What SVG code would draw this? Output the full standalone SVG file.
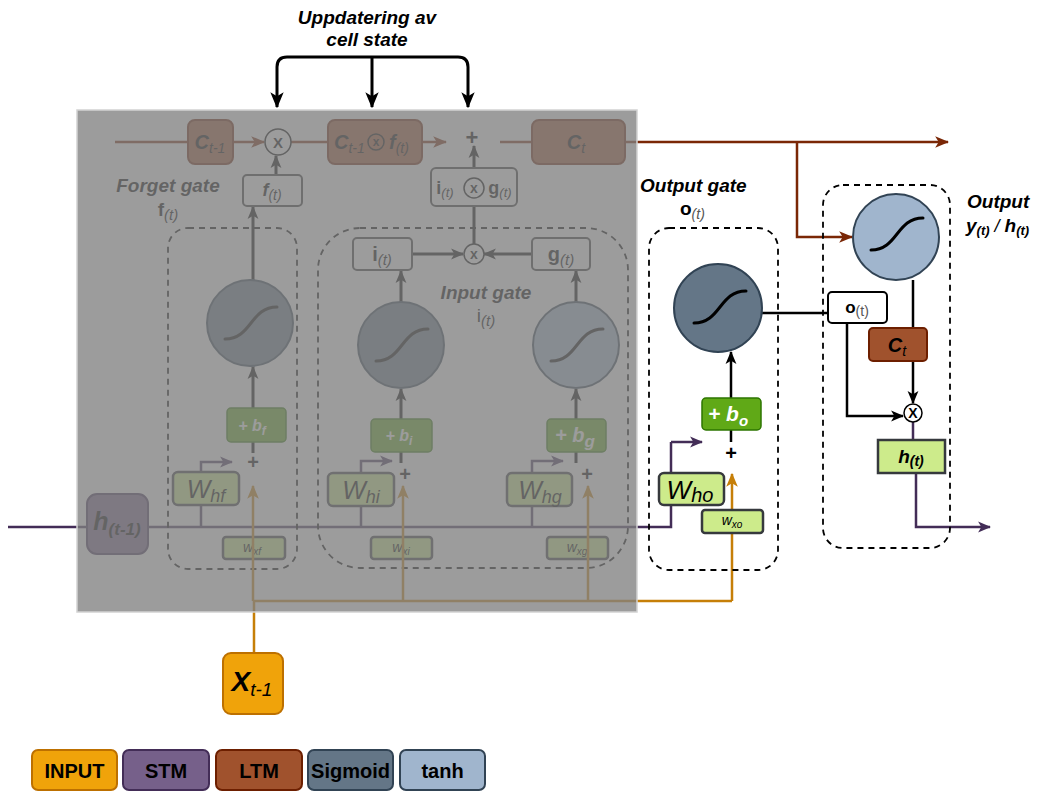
<svg xmlns="http://www.w3.org/2000/svg" width="1037" height="792" viewBox="0 0 1037 792">
<defs>
<style>
text{font-family:"Liberation Sans",Arial,sans-serif;fill:#000;}
.bi{font-weight:bold;font-style:italic;}
.b{font-weight:bold;}
.i{font-style:italic;}
.box{fill:#fff;stroke:#333;stroke-width:2;}
.ltm{fill:#a0522d;stroke:#6d1f00;stroke-width:2;}
.stm{fill:#76608a;stroke:#432d57;stroke-width:2;}
.inp{fill:#f0a30a;stroke:#bd7000;stroke-width:2;}
.sig{fill:#647687;stroke:#314354;stroke-width:2;}
.tanh{fill:#a0b5cd;stroke:#314354;stroke-width:2;}
.wt{fill:#cdeb8b;stroke:#36393d;stroke-width:2.5;}
.bias{fill:#60a917;stroke:#2d7600;stroke-width:1.5;}
.dash{fill:none;stroke:#000;stroke-width:1.8;stroke-dasharray:6 5;}
.curve{fill:none;stroke:#000;stroke-width:3;stroke-linecap:round;}
.op{fill:#fff;stroke:#000;stroke-width:1.5;}
.k{fill:none;stroke:#000;stroke-width:2.5;}
.k3{fill:none;stroke:#000;stroke-width:3;}
.br{fill:none;stroke:#7a2706;stroke-width:2.5;}
.pu{fill:none;stroke:#432d57;stroke-width:2.5;}
.or{fill:none;stroke:#c67f08;stroke-width:2.5;}
.ak{marker-end:url(#ak);}
.ab{marker-end:url(#ab);}
.ap{marker-end:url(#ap);}
.ao{marker-end:url(#ao);}
.big{marker-end:url(#akl);}
.wl{fill:#fff;}
.lg{font-weight:bold;font-size:20px;}
</style>
<marker id="ak" viewBox="0 0 12 12" refX="11" refY="6" markerWidth="13" markerHeight="13" markerUnits="userSpaceOnUse" orient="auto"><path d="M0,1 L12,6 L0,11 L3,6 z" fill="#000"/></marker>
<marker id="akl" viewBox="0 0 12 12" refX="11" refY="6" markerWidth="16" markerHeight="16" markerUnits="userSpaceOnUse" orient="auto"><path d="M0,1 L12,6 L0,11 L3,6 z" fill="#000"/></marker>
<marker id="ab" viewBox="0 0 12 12" refX="11" refY="6" markerWidth="14" markerHeight="14" markerUnits="userSpaceOnUse" orient="auto"><path d="M0,1 L12,6 L0,11 L3,6 z" fill="#7a2706"/></marker>
<marker id="ap" viewBox="0 0 12 12" refX="11" refY="6" markerWidth="13" markerHeight="13" markerUnits="userSpaceOnUse" orient="auto"><path d="M0,1 L12,6 L0,11 L3,6 z" fill="#432d57"/></marker>
<marker id="ao" viewBox="0 0 12 12" refX="11" refY="6" markerWidth="14" markerHeight="14" markerUnits="userSpaceOnUse" orient="auto"><path d="M0,1 L12,6 L0,11 L3,6 z" fill="#c67f08"/></marker>
<path id="s-curve" d="M-25,16 C2,16 0,-16 27,-16" class="curve"/>
</defs>

<rect width="1037" height="792" fill="#fff"/>

<!-- title of the cell-state update bracket -->
<g id="update-label">
<text class="bi" font-size="19" x="367" y="24" text-anchor="middle">Uppdatering av</text>
<text class="bi" font-size="19" x="367" y="46" text-anchor="middle">cell state</text>
</g>

<!-- connectors -->
<g id="connectors">
<path class="k3 big" d="M372,57 H287 Q277,57 277,67 V107"/>
<path class="k3 big" d="M372,57 H458 Q468,57 468,67 V107"/>
<path class="k3 big" d="M372,57 V107"/>

<path class="br" d="M115,142 H188"/>
<path class="br ab" d="M233,142 H264"/>
<path class="br" d="M291,142 H328"/>
<path class="br ab" d="M422,142 H446"/>
<path class="br" d="M500,142 H532"/>
<path class="br ab" d="M625,142 H948"/>
<path class="br ab" d="M797,142 V237 H852"/>

<path class="pu" d="M8,527 H87"/>
<path class="pu" d="M148,527 H671 V442"/>
<path class="pu ap" d="M671,442 H702"/>

<path class="k3 ak" d="M253,280 V207"/>
<path class="k3 ak" d="M276,175 V156"/>
<path class="k3 ak" d="M253,408 V367"/>
<path class="k3" d="M253,442 V453"/>
<path class="pu ap" d="M201,472 V462 H232"/>
<path class="pu" d="M201,505 V527"/>

<path class="k3 ak" d="M401,302 V271"/>
<path class="k3 ak" d="M401,419 V389"/>
<path class="k3" d="M401,452 V463"/>
<path class="pu ap" d="M361,473 V461 H392"/>
<path class="pu" d="M361,506 V527"/>

<path class="k3 ak" d="M576,302 V271"/>
<path class="k3 ak" d="M576,419 V389"/>
<path class="k3" d="M576,452 V463"/>
<path class="pu ap" d="M532,473 V461 H563"/>
<path class="pu" d="M532,506 V527"/>

<path class="k3 ak" d="M412,254 H463"/>
<path class="k3 ak" d="M532,254 H484"/>
<path class="k3" d="M474,244 V206"/>
<path class="k3 ak" d="M474,168 V146"/>

<path class="or" d="M254,653 V601 H732"/>
<path class="or ao" d="M732,601 V474"/>

<path class="k" d="M762,313 H828"/>
<path class="k ak" d="M731,398 V352"/>
<path class="k" d="M731,430 V442"/>
<path class="k ak" d="M847,323 V416 H903"/>
<path class="k" d="M913,280 V328"/>
<path class="k ak" d="M913,361 V403"/>
<path class="pu" d="M913,422 V440"/>
<path class="pu ap" d="M916,473 V527 H990"/>
</g>

<!-- forget gate -->
<g id="forget-gate">
<text class="bi" font-size="19" x="168" y="192" text-anchor="middle">Forget gate</text>
<text x="168" y="216" text-anchor="middle"><tspan class="b" font-size="19">f</tspan><tspan class="i" font-size="15" dy="4">(t)</tspan></text>
<rect class="dash" x="168" y="228" width="129" height="341" rx="20"/>
<circle class="sig" cx="250" cy="323" r="43"/>
<use href="#s-curve" x="250" y="323"/>
<rect class="bias" x="227" y="408" width="59" height="34" rx="4"/>
<text class="bi wl" font-size="16" x="252" y="431" text-anchor="middle">+ b<tspan font-size="12" dy="4">f</tspan></text>
<text class="b" font-size="20" x="253" y="469" text-anchor="middle">+</text>
<rect class="wt" x="173" y="472" width="66" height="33" rx="5"/>
<text class="i" font-size="25" x="206" y="498" text-anchor="middle">W<tspan font-size="18" dy="4">hf</tspan></text>
<rect class="wt" x="223" y="537" width="62" height="22" rx="3"/>
<text class="i" font-size="14" x="252" y="552" text-anchor="middle">w<tspan font-size="10" dy="3">xf</tspan></text>
<rect class="box" x="243" y="175" width="59" height="31" rx="4"/>
<text x="272" y="196" text-anchor="middle"><tspan class="bi" font-size="18">f</tspan><tspan class="i" font-size="14" dy="4">(t)</tspan></text>
</g>

<!-- input gate -->
<g id="input-gate">
<rect class="dash" x="318" y="228" width="310" height="340" rx="42"/>
<text class="bi" font-size="19" x="486" y="299" text-anchor="middle">Input gate</text>
<text x="486" y="322" text-anchor="middle"><tspan font-size="19">i</tspan><tspan class="i" font-size="15" dy="4">(t)</tspan></text>
<rect class="box" x="353" y="238" width="59" height="32" rx="4"/>
<text x="382" y="261" text-anchor="middle"><tspan class="b" font-size="20">i</tspan><tspan class="i" font-size="15" dy="4">(t)</tspan></text>
<rect class="box" x="532" y="238" width="58" height="32" rx="4"/>
<text x="561" y="261" text-anchor="middle"><tspan class="b" font-size="20">g</tspan><tspan class="i" font-size="15" dy="4">(t)</tspan></text>
<circle class="op" cx="474" cy="254" r="10"/>
<text class="b" font-size="14" x="474" y="259" text-anchor="middle">x</text>
<circle class="sig" cx="401" cy="345" r="43"/>
<use href="#s-curve" x="401" y="345"/>
<circle class="tanh" cx="576" cy="345" r="43"/>
<use href="#s-curve" x="576" y="345"/>
<rect class="bias" x="371" y="419" width="61" height="33" rx="4"/>
<text class="bi wl" font-size="16" x="399" y="441" text-anchor="middle">+ b<tspan font-size="12" dy="4">i</tspan></text>
<rect class="bias" x="547" y="419" width="59" height="33" rx="4"/>
<text class="bi wl" font-size="20" x="575" y="442" text-anchor="middle">+ b<tspan font-size="17" dy="5">g</tspan></text>
<text class="b" font-size="20" x="405" y="481" text-anchor="middle">+</text>
<text class="b" font-size="20" x="587" y="481" text-anchor="middle">+</text>
<rect class="wt" x="328" y="473" width="66" height="33" rx="5"/>
<text class="i" font-size="25" x="361" y="499" text-anchor="middle">W<tspan font-size="18" dy="4">hi</tspan></text>
<rect class="wt" x="507" y="473" width="65" height="33" rx="5"/>
<text class="i" font-size="25" x="540" y="499" text-anchor="middle">W<tspan font-size="18" dy="4">hg</tspan></text>
<rect class="wt" x="371" y="537" width="61" height="22" rx="3"/>
<text class="i" font-size="14" x="401" y="552" text-anchor="middle">w<tspan font-size="10" dy="3">xi</tspan></text>
<rect class="wt" x="547" y="537" width="61" height="22" rx="3"/>
<text class="i" font-size="14" x="577" y="552" text-anchor="middle">w<tspan font-size="10" dy="3">xg</tspan></text>
<rect class="box" x="431" y="168" width="86" height="38" rx="5"/>
<text x="445" y="194" text-anchor="middle"><tspan class="b" font-size="18">i</tspan><tspan class="i" font-size="13" dy="3">(t)</tspan></text>
<circle class="op" cx="474" cy="188" r="10"/>
<text class="b" font-size="14" x="474" y="193" text-anchor="middle">x</text>
<text x="500" y="194" text-anchor="middle"><tspan class="b" font-size="18">g</tspan><tspan class="i" font-size="13" dy="3">(t)</tspan></text>
</g>

<!-- input lines rising through the weight boxes to each sum -->
<g id="connectors-x">
<path class="or ao" d="M253,601 V486"/>
<path class="or ao" d="M403,601 V486"/>
<path class="or ao" d="M588,601 V486"/>
</g>

<!-- cell state row -->
<g id="cell-state">
<rect class="ltm" x="188" y="120" width="45" height="44" rx="7"/>
<text x="210" y="149" text-anchor="middle" fill="#444"><tspan class="bi" font-size="20">C</tspan><tspan class="i" font-size="14" dy="4">t-1</tspan></text>
<circle class="op" cx="278" cy="142" r="13"/>
<text class="b" font-size="15" x="278" y="148" text-anchor="middle">X</text>
<rect class="ltm" x="328" y="120" width="94" height="44" rx="7"/>
<text x="334" y="149"><tspan class="bi" font-size="20">C</tspan><tspan class="i" font-size="14" dy="4">t-1</tspan></text>
<circle fill="none" stroke="#000" stroke-width="1.5" cx="376" cy="142" r="8"/>
<text class="b" font-size="12" x="376" y="146" text-anchor="middle">x</text>
<text x="389" y="149"><tspan class="bi" font-size="20">f</tspan><tspan class="i" font-size="14" dy="4">(t)</tspan></text>
<text class="b" font-size="22" x="472" y="145" text-anchor="middle">+</text>
<rect class="ltm" x="532" y="120" width="93" height="44" rx="7"/>
<text x="576" y="149" text-anchor="middle"><tspan class="bi" font-size="20">C</tspan><tspan class="i" font-size="14" dy="4">t</tspan></text>
</g>

<!-- previous hidden state -->
<g id="h-prev">
<rect class="stm" x="87" y="494" width="61" height="60" rx="10"/>
<text x="117" y="530" text-anchor="middle"><tspan class="bi" font-size="25">h</tspan><tspan class="bi" font-size="17" dy="5">(t-1)</tspan></text>
</g>

<!-- grey shading over the forget and input gates -->
<rect id="shade" x="77" y="110" width="560" height="502" fill="#808080" fill-opacity="0.78" stroke="#d2d2d2" stroke-width="1.5"/>

<!-- input x -->
<g id="x-input">
<rect class="inp" x="223" y="653" width="60" height="61" rx="8"/>
<text x="252" y="691" text-anchor="middle"><tspan class="bi" font-size="28">X</tspan><tspan class="i" font-size="19" dy="5">t-1</tspan></text>
</g>

<!-- output gate -->
<g id="output-gate">
<text class="bi" font-size="19" x="640" y="192">Output gate</text>
<text x="680" y="215"><tspan class="b" font-size="19">o</tspan><tspan class="i" font-size="14" dy="4" fill="#555">(t)</tspan></text>
<rect class="dash" x="649" y="228" width="129" height="342" rx="20"/>
<circle class="sig" cx="718" cy="308" r="44"/>
<use href="#s-curve" x="719" y="307"/>
<rect class="bias" x="702" y="398" width="59" height="32" rx="4"/>
<text class="bi wl" font-size="21" x="728" y="421" text-anchor="middle">+ b<tspan font-size="15" dy="5">o</tspan></text>
<text class="b" font-size="20" x="731" y="460" text-anchor="middle">+</text>
<rect class="wt" x="659" y="473" width="65" height="32" rx="5"/>
<text class="i" font-size="26" x="690" y="499" text-anchor="middle">W<tspan font-size="20" dy="3">ho</tspan></text>
<rect class="wt" x="702" y="510" width="61" height="23" rx="3"/>
<text class="i" font-size="14" x="732" y="525" text-anchor="middle">w<tspan font-size="10" dy="3">xo</tspan></text>
</g>

<!-- output / hidden state -->
<g id="output">
<text class="bi" font-size="19" x="967" y="208">Output</text>
<text x="966" y="232"><tspan class="bi" font-size="19">y</tspan><tspan class="bi" font-size="13" dy="3">(t)</tspan><tspan class="i" font-size="18" dy="-3"> / </tspan><tspan class="bi" font-size="19">h</tspan><tspan class="bi" font-size="13" dy="3">(t)</tspan></text>
<rect class="dash" x="823" y="185" width="127" height="363" rx="20"/>
<circle class="tanh" cx="896" cy="237" r="43"/>
<use href="#s-curve" x="896" y="234"/>
<rect fill="#fff" stroke="#000" stroke-width="2" x="828" y="292" width="59" height="31" rx="4"/>
<text x="857" y="313" text-anchor="middle"><tspan class="b" font-size="17">o</tspan><tspan font-size="14" dy="3" fill="#555">(t)</tspan></text>
<rect class="ltm" x="869" y="328" width="58" height="33" rx="4"/>
<text x="897" y="352" text-anchor="middle"><tspan class="bi" font-size="20">C</tspan><tspan class="i" font-size="14" dy="4">t</tspan></text>
<circle class="op" cx="913" cy="413" r="9"/>
<text class="b" font-size="14" x="913" y="418" text-anchor="middle">X</text>
<rect class="wt" x="878" y="440" width="67" height="33"/>
<text x="911" y="463" text-anchor="middle"><tspan class="bi" font-size="19">h</tspan><tspan class="bi" font-size="14" dy="3">(t)</tspan></text>
</g>

<!-- colour key -->
<g id="legend">
<rect class="inp" x="32" y="750" width="85" height="40" rx="6"/>
<text class="lg" x="74.5" y="778" text-anchor="middle">INPUT</text>
<rect class="stm" x="123" y="750" width="86" height="40" rx="6"/>
<text class="lg" x="166" y="778" text-anchor="middle">STM</text>
<rect class="ltm" x="216" y="750" width="86" height="40" rx="6"/>
<text class="lg" x="259" y="778" text-anchor="middle">LTM</text>
<rect class="sig" x="308" y="750" width="85" height="40" rx="6"/>
<text class="lg" x="350.5" y="778" text-anchor="middle">Sigmoid</text>
<rect class="tanh" x="400" y="750" width="85" height="40" rx="6"/>
<text class="lg" x="442.5" y="778" text-anchor="middle">tanh</text>
</g>
</svg>
